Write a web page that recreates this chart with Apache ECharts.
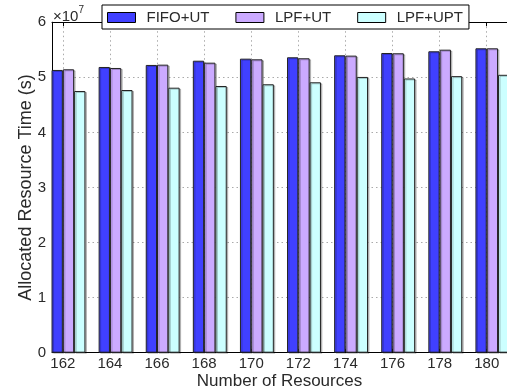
<!DOCTYPE html>
<html>
<head>
<meta charset="utf-8">
<script src="https://cdn.jsdelivr.net/npm/echarts@6/dist/echarts.min.js"></script>
<style>html,body{margin:0;padding:0;background:#fff;}#c{width:507px;height:392px;}</style>
</head>
<body>
<div id="c"></div>
<script>
const resources = [162, 164, 166, 168, 170, 172, 174, 176, 178, 180];
const fifoUT = [5.133, 5.187, 5.224, 5.301, 5.338, 5.363, 5.399, 5.441, 5.472, 5.526];
const lpfUT  = [5.145, 5.169, 5.229, 5.265, 5.326, 5.345, 5.393, 5.436, 5.501, 5.526];
const lpfUPT = [4.751, 4.769, 4.811, 4.842, 4.873, 4.909, 5.006, 4.978, 5.021, 5.045];
const scale = 1e7;
const seriesNames = ['FIFO+UT', 'LPF+UT', 'LPF+UPT'];

const FONT = 'Liberation Sans';
const TXT = '#2a2a2a';
const chart = echarts.init(document.getElementById('c'), null, {renderer: 'canvas'});
const pairs = arr => resources.map((r, i) => [r, arr[i] * scale]);
const barStyle = color => ({
  color: color, borderColor: '#222', borderWidth: 1,
  shadowColor: 'rgba(0,0,0,0.22)', shadowOffsetX: 1.5, shadowOffsetY: 1, shadowBlur: 0
});
const gridLine = {show: true, lineStyle: {color: '#aaa', width: 1, type: [1.5, 3]}};
const xMin = 161.54, xMax = 180.86;

chart.setOption({
  animation: false,
  backgroundColor: '#fff',
  grid: {left: 52, right: 0, top: 22.2, bottom: 39.3, containLabel: false, outerBoundsMode: 'none'},
  legend: {
    data: seriesNames,
    icon: 'rect',
    left: 102, top: 5,
    backgroundColor: '#fff', borderColor: '#000', borderWidth: 1,
    padding: [5, 6, 4, 5],
    itemWidth: 28, itemHeight: 10, itemGap: 26,
    textStyle: {fontFamily: FONT, fontSize: 15, color: TXT, padding: [0, 0, 0, 6], lineHeight: 11},
    itemStyle: {borderColor: '#000', borderWidth: 1, shadowBlur: 0, shadowOffsetX: 0, shadowOffsetY: 0, shadowColor: 'transparent'}
  },
  graphic: [{
    type: 'text', left: 53, top: 5, z: 10,
    style: {
      text: '{a|×10}{b|7}',
      rich: {
        a: {fontFamily: FONT, fontSize: 15, fill: TXT, padding: [4, 0, 0, 0]},
        b: {fontFamily: FONT, fontSize: 10, fill: TXT, verticalAlign: 'top'}
      }
    }
  }],
  xAxis: [{
    type: 'value', min: xMin, max: xMax,
    name: 'Number of Resources', nameLocation: 'middle', nameGap: 20,
    nameMoveOverlap: false,
    nameTextStyle: {fontFamily: FONT, fontSize: 17, color: TXT},
    axisLine: {show: true, onZero: false, lineStyle: {color: '#000', width: 1}},
    axisTick: {show: true, inside: true, length: 4, customValues: resources, lineStyle: {color: '#000'}},
    axisLabel: {customValues: resources, fontFamily: FONT, fontSize: 15, color: TXT, margin: 4},
    splitLine: gridLine
  }, {
    type: 'value', min: xMin, max: xMax, position: 'top',
    axisLine: {show: true, onZero: false, lineStyle: {color: '#000', width: 1}},
    axisTick: {show: true, inside: true, length: 4, customValues: resources, lineStyle: {color: '#000'}},
    axisLabel: {show: false},
    splitLine: {show: false}
  }],
  yAxis: {
    type: 'value', min: 0, max: 6 * scale, interval: scale,
    name: 'Allocated Resource Time (s)', nameLocation: 'middle', nameGap: 17,
    nameMoveOverlap: false,
    nameTextStyle: {fontFamily: FONT, fontSize: 18, color: TXT},
    axisLine: {show: true, lineStyle: {color: '#000', width: 1}},
    axisTick: {show: true, inside: true, length: 4, lineStyle: {color: '#000'}},
    axisLabel: {fontFamily: FONT, fontSize: 15, color: TXT, margin: 6,
      formatter: v => String(Math.round(v / scale))},
    splitLine: gridLine
  },
  series: [
    {name: '_pad', type: 'bar', data: [], barWidth: 11.3, barGap: '0%', silent: true},
    {name: seriesNames[0], type: 'bar', data: pairs(fifoUT), barWidth: 11.3, barGap: '0%', itemStyle: barStyle('#4040ff')},
    {name: seriesNames[1], type: 'bar', data: pairs(lpfUT), barWidth: 11.3, barGap: '0%', itemStyle: barStyle('#cbaaff')},
    {name: seriesNames[2], type: 'bar', data: pairs(lpfUPT), barWidth: 11.3, barGap: '0%', itemStyle: barStyle('#ccffff')}
  ]
});
</script>
</body>
</html>
